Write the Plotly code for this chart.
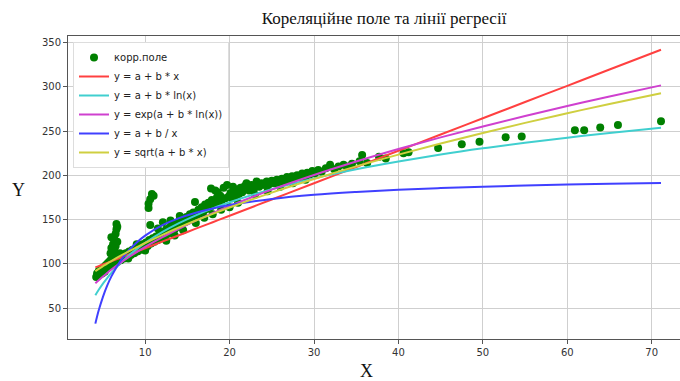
import plotly.graph_objects as go

# ---- scatter data (correlation field) ----
scatter_pts = [
    (4.2,85),(4.3,89),(4.4,86),(4.5,92),(4.6,88),(4.7,90),(4.8,94),(4.9,89),(5.0,92),(5.1,96),
    (5.2,91),(5.3,98),(5.4,94),(5.5,100),(5.6,96),(5.7,102),(5.8,98),(5.9,104),(6.0,100),(6.1,106),
    (5.9,112),(6.0,118),(6.0,130),(6.2,122),(6.3,109),(6.4,127),(6.4,114),(6.5,134),(6.5,120),(6.6,139),
    (6.6,145),(6.7,142),(6.7,125),(6.8,110),
    (6.3,101),(6.5,104),(6.7,102),(6.9,107),(7.1,104),(7.3,109),(7.5,106),(7.7,112),(7.9,108),(8.1,114),
    (8.3,110),(8.5,116),(8.7,112),(8.9,118),(9.1,114),(9.3,120),(9.5,116),(9.7,122),(9.9,118),(10.1,124),
    (10.3,120),(10.5,127),(7.0,112),(8.0,106),(9.0,122),(10.0,115),
    (10.4,163),(10.4,168),(10.6,173),(10.8,179),(11.0,177),(10.6,144),
    (10.7,123),(10.9,129),(11.1,125),(11.3,131),(11.5,127),(11.7,134),(11.9,129),(12.1,136),(12.3,131),
    (12.5,139),(12.7,134),(12.9,141),(13.1,137),(13.3,144),(13.5,139),(13.7,146),(13.9,142),(14.1,149),
    (14.3,144),(14.5,151),(14.7,147),(14.9,153),(12.1,147),(13.0,149),(14.1,154),(11.5,140),(12.5,126),
    (13.5,132),(14.5,138),
    (15.1,149),(15.3,156),(15.5,151),(15.7,158),(15.9,170),(16.1,155),(16.3,161),(16.5,157),(16.7,164),
    (16.9,159),(17.1,167),(17.3,162),(17.5,169),(17.7,164),(17.9,172),(18.1,167),(18.3,183),(18.5,175),
    (18.7,169),(18.9,177),(19.1,172),(19.3,186),(19.5,174),(19.7,189),(19.9,176),(20.1,180),(20.3,174),
    (20.5,182),(20.7,177),(20.9,184),(21.1,179),(21.3,186),(21.5,181),(21.8,188),(22.0,191),(16.0,146),
    (17.0,152),(18.0,156),(19.0,161),(20.0,164),(21.0,169),(17.8,185),(18.6,181),(20.4,187),
    (22.3,183),(22.6,189),(22.9,185),(23.2,193),(23.5,187),(23.8,191),(24.1,189),(24.4,193),(24.7,190),
    (25.0,194),(25.3,191),(25.6,195),(25.9,193),(26.2,196),(26.5,194),(26.8,198),(27.1,195),(27.4,199),
    (27.7,197),(28.0,200),(28.3,198),(28.6,202),(28.9,200),(29.2,203),(29.5,201),(29.8,205),(30.1,202),
    (30.5,206),(30.9,204),(31.4,208),(31.9,212),(23.0,178),(24.5,182),(26.0,187),(27.5,191),(29.0,195),
    (32.4,207),(32.9,210),(33.5,212),(33.9,210),(34.5,213),(35.4,216),(35.7,223),(36.3,214),(37.7,221),
    (38.5,219),(40.6,225),(41.2,226),
    (44.7,231),(47.5,235),(49.6,238),(52.7,243),(54.6,244),(60.9,251),(62.0,251),(63.9,254),(66.0,257),
    (71.1,261),
]
scatter_x = [p[0] for p in scatter_pts]
scatter_y = [p[1] for p in scatter_pts]

# ---- regression curves, values read at sample x ----
curve_x = [4.1, 4.5, 5, 5.5, 6, 7, 8, 9, 10, 12, 14, 16, 18, 20, 25, 30, 35, 40, 45, 50, 55, 60, 65, 71.1]
lin_y = [96.0, 97.4, 99.3, 101.1, 102.9, 106.6, 110.3, 113.9, 117.6, 125.0, 132.3, 139.7, 147.0, 154.3,
         172.7, 191.1, 209.4, 227.8, 246.1, 264.5, 282.9, 301.2, 319.6, 342.0]
log_y = [64.4, 70.6, 77.6, 83.9, 89.7, 99.9, 108.8, 116.6, 123.6, 135.7, 145.9, 154.8, 162.6, 169.6,
         184.4, 196.5, 206.8, 215.6, 223.5, 230.5, 236.8, 242.6, 247.9, 253.8]
pow_y = [78.0, 81.5, 85.7, 89.7, 93.5, 100.5, 107.1, 113.3, 119.1, 129.8, 139.6, 148.8, 157.3, 165.4,
         183.8, 200.4, 215.6, 229.7, 242.9, 255.3, 267.1, 278.4, 289.2, 301.7]
hyp_y = [32.4, 47.4, 62.7, 75.3, 85.8, 102.2, 114.6, 124.2, 131.9, 143.4, 151.6, 157.8, 162.6, 166.4,
         173.3, 178.0, 181.2, 183.7, 185.6, 187.2, 188.4, 189.5, 190.4, 191.3]
sqrt_y = [91.8, 94.3, 97.3, 100.3, 103.1, 108.6, 113.8, 118.7, 123.5, 132.5, 141.0, 148.9, 156.5, 163.7,
          180.5, 195.8, 210.1, 223.4, 236.0, 247.9, 259.3, 270.2, 280.7, 292.9]

series_names = ["y = a + b * x", "y = a + b * ln(x)", "y = exp(a + b * ln(x))", "y = a + b / x", "y = sqrt(a + b * x)"]
series_vals = [lin_y, log_y, pow_y, hyp_y, sqrt_y]
series_colors = ["#ff4040", "#40cfcf", "#cf40cf", "#4040ff", "#cfcf40"]

xticks = [10, 20, 30, 40, 50, 60, 70]
yticks = [50, 100, 150, 200, 250, 300, 350]

fig = go.Figure()
fig.add_trace(go.Scatter(x=scatter_x, y=scatter_y, mode="markers", name="корр.поле",
                         marker=dict(color="#008000", size=8, line=dict(width=0))))
for name, vals, col in zip(series_names, series_vals, series_colors):
    fig.add_trace(go.Scatter(x=curve_x, y=vals, mode="lines", name=name,
                             line=dict(color=col, width=2, shape="spline")))

W, H = 680, 381
L, R, T, B = 68, 0, 36, 381 - 339
ph = H - T - B
pw = W - L - R

def px2paper_x(px):
    return (px - L) / pw

def py2paper_y(py):
    return 1 - (py - T) / ph

fig.update_layout(
    width=W, height=H,
    margin=dict(l=L, r=R, t=T, b=B, autoexpand=False),
    paper_bgcolor="white", plot_bgcolor="white",
    font=dict(family="DejaVu Sans", size=10, color="#333"),
    title=dict(text="Кореляційне поле та лінії регресії", x=384 / W, xanchor="center",
               y=1 - 18 / H, yanchor="middle", xref="container", yref="container",
               font=dict(family="Liberation Serif", size=17, color="#111")),
    showlegend=True,
    legend=dict(x=px2paper_x(73), y=py2paper_y(42), xanchor="left", yanchor="top",
                bgcolor="white", bordercolor="#dddddd", borderwidth=1,
                font=dict(family="DejaVu Sans", size=10, color="#222"), tracegroupgap=0),
    xaxis=dict(range=[0.86, 73.35], tickvals=xticks, ticks="outside", ticklen=4, tickcolor="#555",
               showgrid=True, gridcolor="#cfcfcf", gridwidth=1, zeroline=False,
               showline=True, linecolor="#555", linewidth=1, mirror=True, automargin=False),
    yaxis=dict(range=[15.0, 357.5], tickvals=yticks, ticks="outside", ticklen=4, tickcolor="#555",
               showgrid=True, gridcolor="#cfcfcf", gridwidth=1, zeroline=False,
               showline=True, linecolor="#555", linewidth=1, mirror=False, automargin=False),
    annotations=[
        dict(text="X", xref="paper", yref="paper", x=px2paper_x(366), y=py2paper_y(371),
             showarrow=False, xanchor="center", yanchor="middle",
             font=dict(family="Liberation Serif", size=18, color="#111")),
        dict(text="Y", xref="paper", yref="paper", x=px2paper_x(18), y=py2paper_y(190),
             showarrow=False, xanchor="center", yanchor="middle",
             font=dict(family="Liberation Serif", size=18, color="#111")),
    ],
)

fig.write_html("out.html", config={"displayModeBar": False},
               post_script="document.body.style.margin='0';document.body.style.overflow='hidden';")
